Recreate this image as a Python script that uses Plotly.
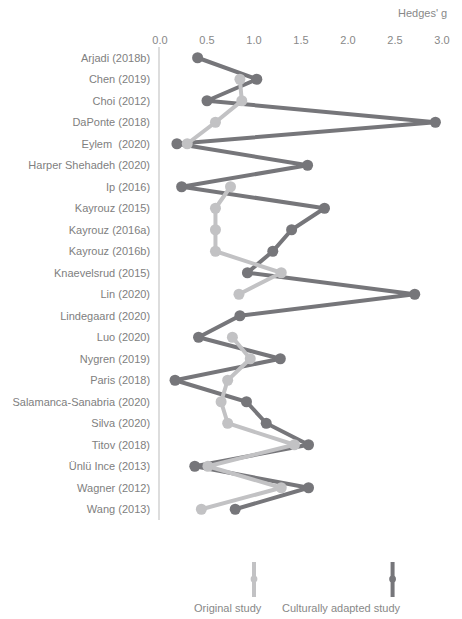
import plotly.graph_objects as go

studies = ["Arjadi (2018b)", "Chen (2019)", "Choi (2012)", "DaPonte (2018)", "Eylem  (2020)",
           "Harper Shehadeh (2020)", "Ip (2016)", "Kayrouz (2015)", "Kayrouz (2016a)", "Kayrouz (2016b)",
           "Knaevelsrud (2015)", "Lin (2020)", "Lindegaard (2020)", "Luo (2020)", "Nygren (2019)",
           "Paris (2018)", "Salamanca-Sanabria (2020)", "Silva (2020)", "Titov (2018)", "Ünlü Ince (2013)",
           "Wagner (2012)", "Wang (2013)"]
adapted = [0.40, 1.03, 0.50, 2.93, 0.18, 1.57, 0.23, 1.75, 1.40, 1.20, 0.93, 2.71, 0.85, 0.41,
           1.28, 0.16, 0.92, 1.13, 1.58, 0.37, 1.58, 0.80]
original = [None, 0.85, 0.87, 0.59, 0.29, None, 0.75, 0.59, 0.59, 0.59, 1.29, 0.84, None, 0.77,
            0.96, 0.72, 0.65, 0.72, 1.43, 0.51, 1.29, 0.44]
x_ticks = [0.0, 0.5, 1.0, 1.5, 2.0, 2.5, 3.0]

DARK = "#76767a"
LIGHT = "#c2c2c4"
TXT = "#888888"

fig = go.Figure()
fig.add_trace(go.Scatter(x=adapted, y=studies, mode="lines+markers", name="Culturally adapted study",
                         line=dict(color=DARK, width=4), marker=dict(color=DARK, size=11),
                         connectgaps=False, showlegend=False))
fig.add_trace(go.Scatter(x=original, y=studies, mode="lines+markers", name="Original study",
                         line=dict(color=LIGHT, width=4), marker=dict(color=LIGHT, size=11),
                         connectgaps=False, showlegend=False))

L, R, T, B = 156, 15, 47, 99
W, H = 462, 619
pw, ph = W - L - R, H - T - B

def px(x):
    return (x - L) / pw

def py(y):
    return (H - B - y) / ph

shapes = []
annotations = []
for cx, col, lx, label in [(253, LIGHT, 226, "Original study"), (396, DARK, 343, "Culturally adapted study")]:
    shapes.append(dict(type="line", xref="paper", yref="paper", x0=px(cx), x1=px(cx),
                       y0=py(562), y1=py(597), line=dict(color=col, width=4)))
    shapes.append(dict(type="circle", xref="paper", yref="paper", x0=px(cx - 3.5), x1=px(cx + 3.5),
                       y0=py(582.5), y1=py(575.5), fillcolor=col, line=dict(width=0)))
    annotations.append(dict(text=label, xref="paper", yref="paper", x=px(lx), y=py(608),
                            xanchor="center", yanchor="middle", showarrow=False,
                            font=dict(size=11, color=TXT)))

annotations.append(dict(text="Hedges' g", xref="paper", yref="paper", x=px(454), y=py(13),
                        xanchor="right", yanchor="middle", showarrow=False,
                        font=dict(size=11, color=TXT)))

fig.update_layout(
    width=W, height=H,
    margin=dict(l=L, r=R, t=T, b=B),
    paper_bgcolor="white", plot_bgcolor="white",
    font=dict(family="Liberation Sans, Arial, sans-serif", size=11, color=TXT),
    xaxis=dict(range=[0, 3.0], side="top", tickvals=x_ticks, ticktext=[f"{v:.1f}" for v in x_ticks],
               showgrid=False, zeroline=False, showline=False, ticks="",
               tickfont=dict(size=11, color=TXT)),
    yaxis=dict(categoryorder="array", categoryarray=studies, autorange=False,
               range=[len(studies) - 0.5, -0.5], showgrid=False, zeroline=False,
               showline=True, linecolor="#dddddd", linewidth=1.5, ticks="",
               ticklabelstandoff=6, tickfont=dict(size=11, color="#808080")),
    shapes=shapes, annotations=annotations,
)
fig.write_html("out.html")
